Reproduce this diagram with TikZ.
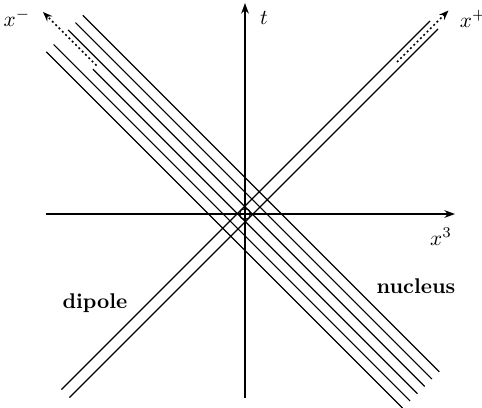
\documentclass[tikz,border=0pt]{standalone}
\usetikzlibrary{arrows.meta}
\begin{document}
\begin{tikzpicture}[x=0.47pt,y=0.47pt,
  axis/.style={line width=0.75pt,-{Stealth[length=5pt,width=3.6pt]}},
  sheet/.style={line width=0.55pt},
  lc/.style={line width=0.7pt,dash pattern=on 0.9pt off 1.3pt,-{Stealth[length=4.5pt,width=3.4pt]}},
  lab/.style={font=\bfseries}]
\useasboundingbox (-245,-193) rectangle (237,214);
% axes
\coordinate (xl) at (-199,0);
\coordinate (xr) at (210,0);
\coordinate (tb) at (0,-184);
\coordinate (tt) at (0,211);
\draw[axis] (xl) -- (xr);
\draw[axis] (tb) -- (tt);
% nucleus sheets (along x^-)
\foreach \k/\w in {36.5/361,21.9/361,7.3/361,-7.3/297,-21.9/361,-36.5/361}
  \draw[sheet] ({(\k-\w)/2},{(\k+\w)/2}) -- ({(\k+352)/2},{(\k-352)/2});
% dipole lines (along x^+)
\foreach \m in {8,-8}
  \draw[sheet] ({(-359-\m)/2},{(-359+\m)/2}) -- ({(378-\m)/2},{(378+\m)/2});
% light-cone dotted arrows
\coordinate (ms) at (-148.5,148.5);
\coordinate (me) at (-202,202);
\coordinate (ps) at (152,152);
\coordinate (pe) at (203.5,203.5);
\draw[lc] (ms) -- (me);
\draw[lc] (ps) -- (pe);
% origin
\node[draw,circle,line width=0.5pt,minimum size=5.2pt,inner sep=0pt] (o) at (0,0) {};
% labels
\node (lt) at (19,196) {$t$};
\node (lm) at (-228,196) {$x^-$};
\node (lp) at (228,195) {$x^+$};
\node (l3) at (196,-23) {$x^3$};
\node[lab] (ld) at (-150,-89) {dipole};
\node[lab] (ln) at (171,-72) {nucleus};
\end{tikzpicture}
\end{document}
